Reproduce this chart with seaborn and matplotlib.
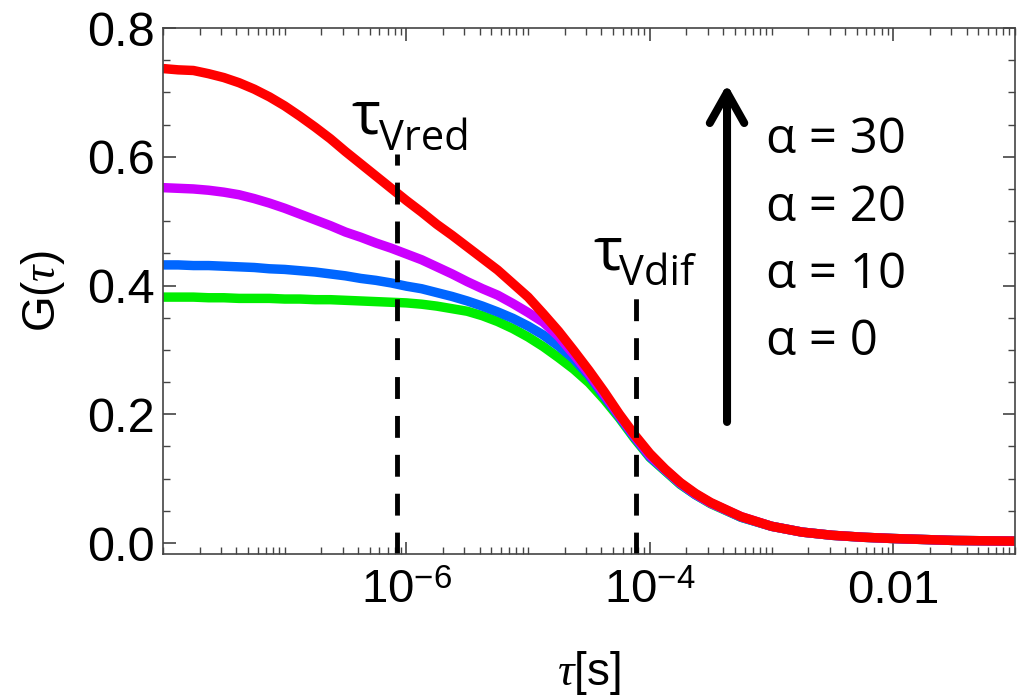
import numpy as np
import pandas as pd
import matplotlib
matplotlib.use("Agg")
import matplotlib.pyplot as plt
import matplotlib.ticker as mticker
import seaborn as sns

# Lag times (log10 of tau in seconds) at which the curves are sampled
log_tau = [-8.0, -7.875, -7.75, -7.625, -7.5, -7.375, -7.25, -7.125,
           -7.0, -6.875, -6.75, -6.625, -6.5, -6.375, -6.25, -6.125,
           -6.0, -5.875, -5.75, -5.625, -5.5, -5.375, -5.25, -5.125,
           -5.0, -4.875, -4.75, -4.625, -4.5, -4.375, -4.25, -4.125,
           -4.0, -3.875, -3.75, -3.625, -3.5, -3.25, -3.0, -2.75,
           -2.5, -2.25, -2.0, -1.5, -1.0]

# Autocorrelation G(tau) for each alpha
g_alpha0 = [0.382, 0.382, 0.382, 0.381, 0.381, 0.380, 0.380, 0.380,
            0.379, 0.379, 0.378, 0.378, 0.377, 0.376, 0.375, 0.374,
            0.373, 0.371, 0.368, 0.364, 0.360, 0.353, 0.344, 0.333,
            0.320, 0.305, 0.288, 0.270, 0.249, 0.223, 0.194, 0.162,
            0.133, 0.112, 0.091, 0.075, 0.061, 0.040, 0.026, 0.017,
            0.012, 0.009, 0.007, 0.004, 0.003]
g_alpha10 = [0.432, 0.432, 0.431, 0.431, 0.430, 0.429, 0.428, 0.426,
             0.425, 0.423, 0.421, 0.418, 0.415, 0.411, 0.408, 0.404,
             0.399, 0.395, 0.389, 0.383, 0.376, 0.368, 0.359, 0.349,
             0.337, 0.323, 0.306, 0.286, 0.260, 0.228, 0.196, 0.164,
             0.134, 0.113, 0.092, 0.075, 0.062, 0.040, 0.026, 0.017,
             0.012, 0.009, 0.007, 0.004, 0.003]
g_alpha20 = [0.552, 0.551, 0.550, 0.548, 0.545, 0.541, 0.535, 0.528,
             0.520, 0.511, 0.502, 0.493, 0.483, 0.475, 0.466, 0.458,
             0.449, 0.440, 0.429, 0.418, 0.406, 0.395, 0.385, 0.372,
             0.358, 0.343, 0.321, 0.293, 0.263, 0.231, 0.198, 0.166,
             0.136, 0.114, 0.093, 0.076, 0.062, 0.041, 0.026, 0.017,
             0.012, 0.009, 0.007, 0.004, 0.003]
g_alpha30 = [0.737, 0.735, 0.734, 0.729, 0.723, 0.715, 0.705, 0.693,
             0.679, 0.663, 0.646, 0.628, 0.608, 0.589, 0.570, 0.551,
             0.532, 0.514, 0.495, 0.478, 0.460, 0.442, 0.424, 0.403,
             0.382, 0.356, 0.329, 0.299, 0.268, 0.235, 0.200, 0.168,
             0.139, 0.115, 0.094, 0.077, 0.063, 0.041, 0.026, 0.017,
             0.012, 0.009, 0.007, 0.004, 0.003]

alphas = [0, 10, 20, 30]
curve_colors = ["#00ee00", "#0066ff", "#cc00ff", "#ff0000"]

# Characteristic times marked by dashed lines
tau_vred = 8.3e-7
tau_vdif = 7.7e-5
vred_top = 0.605
vdif_top = 0.380

xtick_values = [1e-6, 1e-4, 1e-2]
xtick_labels = [r"$10^{-6}$", r"$10^{-4}$", "0.01"]
ytick_values = [0.0, 0.2, 0.4, 0.6, 0.8]
ytick_labels = ["0.0", "0.2", "0.4", "0.6", "0.8"]

tau = 10.0 ** np.array(log_tau)
frames = []
for a, g in zip(alphas, [g_alpha0, g_alpha10, g_alpha20, g_alpha30]):
    frames.append(pd.DataFrame({"tau": tau, "G": g, "alpha": a}))
df = pd.concat(frames, ignore_index=True)

sns.set_style("ticks")
plt.rcParams["font.family"] = ["Liberation Sans", "DejaVu Sans"]
plt.rcParams["text.color"] = "black"
plt.rcParams["axes.labelcolor"] = "black"
plt.rcParams["xtick.color"] = "black"
plt.rcParams["ytick.color"] = "black"
plt.rcParams["mathtext.fontset"] = "custom"
plt.rcParams["mathtext.rm"] = "Liberation Sans"
plt.rcParams["mathtext.it"] = "Liberation Serif:italic"

fig = plt.figure(figsize=(10.23, 7.0), dpi=100)
ax = fig.add_axes([0.1593, 0.2086, 0.8329, 0.7514])

sns.lineplot(data=df, x="tau", y="G", hue="alpha", hue_order=alphas,
             palette=curve_colors, linewidth=6.8, legend=False, ax=ax,
             solid_capstyle="butt", solid_joinstyle="round")

ax.set_xscale("log")
ax.set_xlim(1e-8, 1e-1)
ax.set_ylim(-0.017, 0.8)

# Dashed markers for the two characteristic times
ax.plot([tau_vred, tau_vred], [-0.017, vred_top], color="black", lw=3.5,
        dashes=(4.5, 3.5))
ax.plot([tau_vdif, tau_vdif], [-0.017, vdif_top], color="black", lw=3.5,
        dashes=(4.5, 3.5))

ann_font = ["Open Sans", "DejaVu Sans"]
ax.text(0.221, 0.800, "τ", transform=ax.transAxes, fontsize=44,
        family=ann_font, ha="left", va="baseline")
ax.text(0.253, 0.768, "Vred", transform=ax.transAxes, fontsize=30,
        family=ann_font, ha="left", va="baseline")
ax.text(0.505, 0.540, "τ", transform=ax.transAxes, fontsize=44,
        family=ann_font, ha="left", va="baseline")
ax.text(0.535, 0.511, "Vdif", transform=ax.transAxes, fontsize=30,
        family=ann_font, ha="left", va="baseline")

# Arrow indicating increasing alpha
ax.annotate("", xy=(0.662, 0.893), xytext=(0.662, 0.251),
            xycoords="axes fraction", textcoords="axes fraction",
            arrowprops=dict(arrowstyle="->,head_length=1.1,head_width=0.62",
                            mutation_scale=20, lw=5.8, color="black",
                            shrinkA=0, shrinkB=0))

for i, a in enumerate(reversed(alphas)):
    ax.text(0.708, 0.762 - i * 0.128, f"α = {a}", transform=ax.transAxes,
            fontsize=35.5, family=ann_font, ha="left", va="baseline")

# Axis frame and ticks
for side in ["top", "right", "bottom", "left"]:
    ax.spines[side].set_visible(True)
    ax.spines[side].set_color("#444444")
    ax.spines[side].set_linewidth(1.2)

ax.xaxis.set_major_locator(mticker.FixedLocator(xtick_values))
ax.xaxis.set_major_formatter(mticker.FixedFormatter(xtick_labels))
minor_x = [m * 10.0 ** e for e in range(-8, 0) for m in range(1, 10)
           if not (m == 1 and e in (-6, -4, -2))]
ax.xaxis.set_minor_locator(mticker.FixedLocator(minor_x))
ax.xaxis.set_minor_formatter(mticker.NullFormatter())

ax.yaxis.set_major_locator(mticker.FixedLocator(ytick_values))
ax.yaxis.set_major_formatter(mticker.FixedFormatter(ytick_labels))
ax.yaxis.set_minor_locator(mticker.MultipleLocator(0.05))

ax.tick_params(axis="both", which="both", direction="in", top=True,
               right=True, color="#444444")
ax.tick_params(axis="both", which="major", length=9, width=1.2)
ax.tick_params(axis="both", which="minor", length=5, width=1.0)
ax.tick_params(axis="x", which="major", labelsize=34, pad=11)
ax.tick_params(axis="y", which="major", labelsize=35, pad=6)

ax.set_xlabel(r"$\tau$[s]", fontsize=33)
ax.set_ylabel(r"G($\tau$)", fontsize=33)
ax.xaxis.set_label_coords(0.5, -0.18)
ax.yaxis.set_label_coords(-0.113, 0.5)

fig.savefig("out.png", dpi=100)
